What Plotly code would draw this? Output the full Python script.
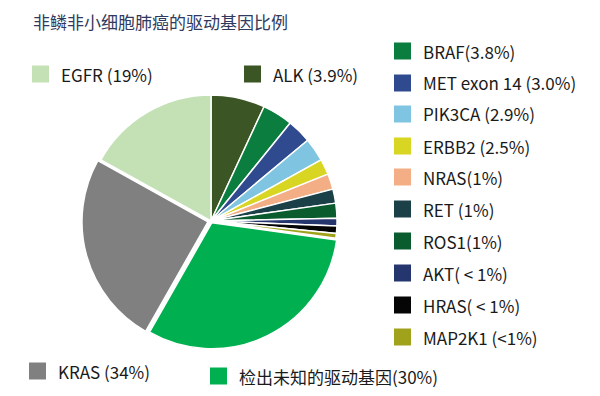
import plotly.graph_objects as go

title_text = "非鳞非小细胞肺癌的驱动基因比例"

genes = ["ALK", "BRAF", "MET exon 14", "PIK3CA", "ERBB2", "NRAS", "RET", "ROS1",
         "AKT", "HRAS", "MAP2K1", "检出未知的驱动基因", "KRAS", "EGFR"]
# slice sizes as drawn in the picture (percent of the circle)
slice_values = [6.9, 3.9, 3.1, 3.0, 2.0, 2.0, 1.8, 1.9, 1.0, 0.95, 0.6, 31.0, 24.8, 16.9]
legend_labels = ["ALK (3.9%)", "BRAF(3.8%)", "MET exon 14 (3.0%)", "PIK3CA (2.9%)",
                 "ERBB2 (2.5%)", "NRAS(1%)", "RET (1%)", "ROS1(1%)", "AKT( < 1%)",
                 "HRAS( < 1%)", "MAP2K1 (<1%)", "检出未知的驱动基因(30%)", "KRAS (34%)",
                 "EGFR (19%)"]
colors = ["#3b5524", "#0b7d3e", "#2f4a8f", "#7fc5e2", "#d8d523", "#f4ae86", "#1c4048",
          "#0a5b2e", "#25356d", "#050505", "#a0a21c", "#00b050", "#808080", "#c4e0b5"]
pulls = [0, 0, 0, 0, 0, 0, 0, 0, 0, 0, 0, 0.015, 0.025, 0]

# legend item positions (window pixels): left of square, vertical centre
legend_pos = {
    "EGFR": (32, 74), "ALK": (244, 74),
    "BRAF": (394, 51), "MET exon 14": (394, 83), "PIK3CA": (394, 114),
    "ERBB2": (394, 146), "NRAS": (394, 177), "RET": (394, 209), "ROS1": (394, 241),
    "AKT": (394, 273), "HRAS": (394, 305), "MAP2K1": (394, 337),
    "KRAS": (29, 371), "检出未知的驱动基因": (210, 376),
}

OFF = 8                    # page body margin
W, H = 600 - 2 * OFF, 396 - 2 * OFF
font_family = "Noto Sans CJK SC, Noto Sans, sans-serif"


def px(x):
    return (x - OFF) / W


def py(y):
    return (H - (y - OFF)) / H


cx, cy, r = 211, 221, 126
maxp = max(pulls)
half = r * (1 + maxp)

fig = go.Figure(go.Pie(
    labels=genes, values=slice_values, sort=False, direction="clockwise", rotation=0,
    marker=dict(colors=colors, line=dict(color="white", width=1.5)),
    pull=pulls, textinfo="none", hoverinfo="label+percent", showlegend=False,
    domain=dict(x=[px(cx - half), px(cx + half)],
                y=[py(cy + half), py(cy - half)]),
))

shapes = []
annotations = []
sq = 17
for g, lab, col in zip(genes, legend_labels, colors):
    x0, yc = legend_pos[g]
    shapes.append(dict(type="rect", xref="paper", yref="paper",
                       x0=px(x0), x1=px(x0 + sq),
                       y0=py(yc + sq / 2), y1=py(yc - sq / 2),
                       fillcolor=col, line=dict(width=0)))
    annotations.append(dict(xref="paper", yref="paper", x=px(x0 + sq + 10),
                            y=py(yc), xanchor="left", yanchor="middle",
                            text=lab, showarrow=False,
                            font=dict(family=font_family, size=17, color="#1a1a1a")))

annotations.append(dict(xref="paper", yref="paper", x=px(32), y=1,
                        xanchor="left", yanchor="top", text=title_text, showarrow=False,
                        borderpad=0,
                        font=dict(family=font_family, size=17, color="#2f3a5e")))

fig.update_layout(
    width=W, height=H, margin=dict(l=0, r=0, t=0, b=0),
    paper_bgcolor="white", plot_bgcolor="white",
    shapes=shapes, annotations=annotations,
)

fig.write_html("out.html")
